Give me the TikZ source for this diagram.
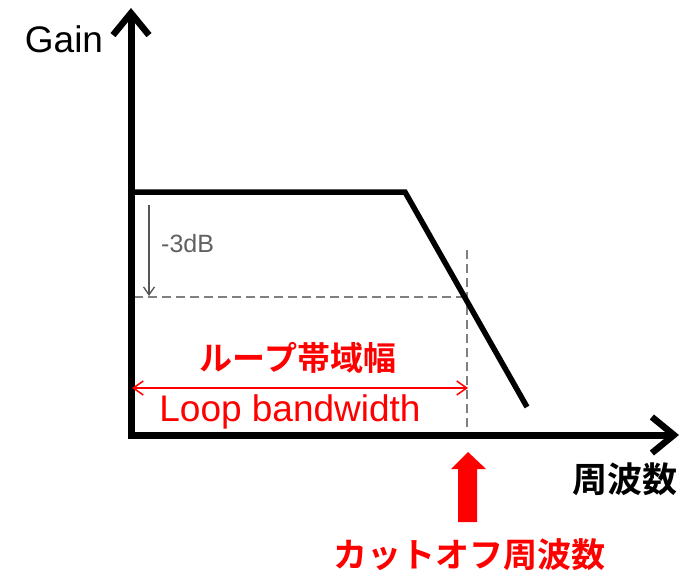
\documentclass[tikz,border=0pt]{standalone}
\usepackage{fontspec}
\setmainfont{Liberation Sans}
\newfontfamily\jpfont{Noto Sans CJK JP}[BoldFont={* Bold}]
\usetikzlibrary{arrows.meta}
\definecolor{dgray}{HTML}{808080}
\definecolor{agray}{HTML}{555555}
\definecolor{tgray}{HTML}{606060}
\tikzset{
  axis/.style={line width=7pt, -{Straight Barb[length=22pt,width=36pt,line width=6.5pt]}},
  curve/.style={line width=5.5pt, line join=miter},
  guide/.style={dgray, line width=2.8pt, dash pattern=on 9pt off 5pt},
  dbarrow/.style={agray, line width=1.3pt, -{Straight Barb[length=8pt,width=11pt,line width=1.3pt]}},
  redarrow/.style={red, line width=1.5pt, {Straight Barb[length=10pt,width=14pt,line width=1.5pt]}-{Straight Barb[length=10pt,width=14pt,line width=1.5pt]}},
  jptext/.style={font=\jpfont\bfseries, inner sep=0pt}
}
\begin{document}
\begin{tikzpicture}[x=1pt,y=-1pt]
\useasboundingbox (0,0) rectangle (698,572);
% coordinates
\coordinate (O) at (131,435);
\coordinate (ytip) at (131,8);
\coordinate (xtip) at (679,435);
\coordinate (c0) at (131,192);
\coordinate (c1) at (405,192);
\coordinate (c2) at (527,407);
\coordinate (h0) at (134,297);
\coordinate (h1) at (466,297);
\coordinate (v0) at (467,250);
\coordinate (v1) at (467,434);
\coordinate (d0) at (149,205);
\coordinate (d1) at (149,296);
\coordinate (r0) at (132,388);
\coordinate (r1) at (468,388);
% guides
\draw[guide] (h0) -- (h1);
\draw[guide] (v0) -- (v1);
% axes
\draw[axis] ([yshift=3.5pt]O) -- (ytip);
\draw[axis] ([xshift=-3.5pt]O) -- (xtip);
% curve
\draw[curve] (c0) -- (c1) -- (c2);
% -3dB arrow
\draw[dbarrow] (d0) -- (d1);
\node[tgray, font=\fontsize{25}{28}\selectfont, anchor=base west, inner sep=0pt] (db) at (161,252) {-3dB};
% loop bandwidth
\draw[redarrow] (r0) -- (r1);
\node[jptext, red, font=\jpfont\bfseries\fontsize{33}{38}\selectfont] (lb) at (298,358) {ループ帯域幅};
\node[red, font=\fontsize{37}{42}\selectfont, anchor=base, inner sep=0pt] (lbe) at (290,421) {Loop bandwidth};
% labels
\node[font=\fontsize{37}{42}\selectfont, anchor=base, inner sep=0pt] (gain) at (64,53) {Gain};
\node[jptext, font=\jpfont\bfseries\fontsize{35}{40}\selectfont] (freq) at (625,479) {周波数};
% red big arrow
\fill[red] (458,522) -- (458,469) -- (451,469) -- (468,452) -- (486,469) -- (477,469) -- (477,522) -- cycle;
\node[jptext, red, font=\jpfont\bfseries\fontsize{34}{38}\selectfont] (cut) at (469,555) {カットオフ周波数};
\end{tikzpicture}
\end{document}
